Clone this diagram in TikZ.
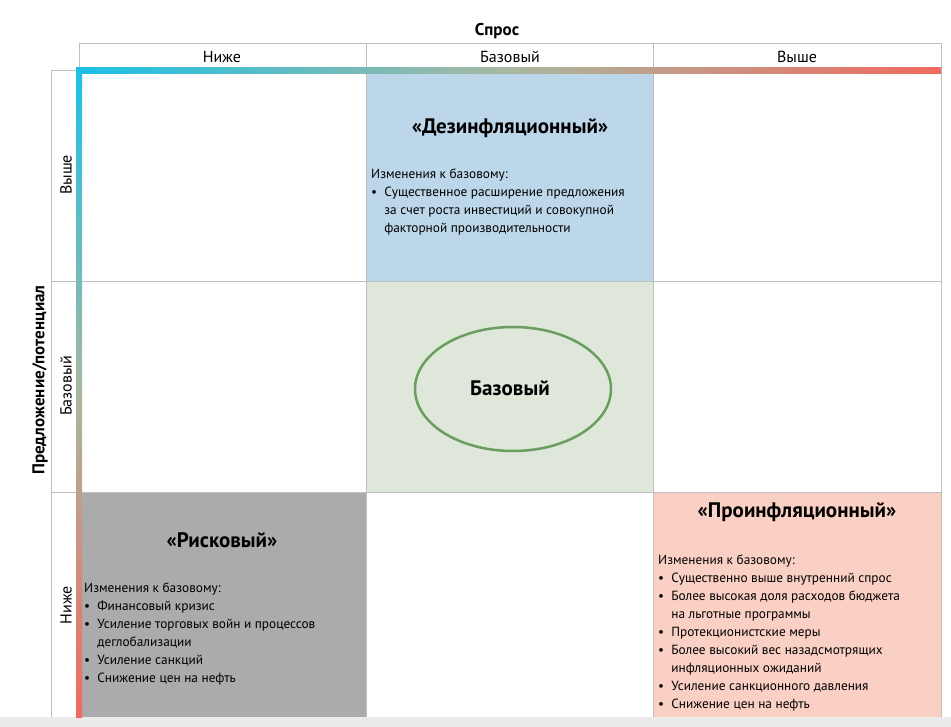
\documentclass[tikz,border=0pt]{standalone}
\usepackage{fontspec}
\setmainfont{PT Sans}
\begin{document}
\begin{tikzpicture}[x=1pt,y=-1pt,
 grid/.style={draw=black!25,line width=0.8pt},
 ttl/.style={font=\bfseries\fontsize{21}{24}\selectfont,anchor=center},
 body/.style={font=\fontsize{13.3}{18}\selectfont,anchor=north west,align=left,inner sep=0pt},
 hdr/.style={font=\fontsize{16}{18}\selectfont}]
\definecolor{cy}{HTML}{1BC0E6}\definecolor{mid}{HTML}{A8B8A0}\definecolor{rd}{HTML}{F06A5F}
\useasboundingbox (0,0) rectangle (951,727);
% cells
\fill[color={rgb,255:red,189;green,215;blue,234}] (366,70) rectangle (653,281);
\fill[color={rgb,255:red,223;green,230;blue,218}] (366,281) rectangle (653,492);
\fill[color={rgb,255:red,171;green,171;blue,173}] (79,492) rectangle (366,717);
\fill[color={rgb,255:red,250;green,208;blue,196}] (653,492) rectangle (941,717);
% grid
\draw[grid] (79,70) -- (79,43) -- (941,43) -- (941,717);
\draw[grid] (366,43) -- (366,717) (653,43) -- (653,717);
\draw[grid] (51,717) -- (51,70) -- (79,70);
\draw[grid] (51,281) -- (941,281) (51,492) -- (941,492);
\fill[black!8] (0,717) rectangle (951,727);
% gradient bars
\shade[left color=cy,right color=rd,middle color=mid] (76,68) rectangle (941,74);
\shade[top color=cy,bottom color=rd,middle color=mid] (76,68) rectangle (82,717);
% headers
\node[font=\bfseries\fontsize{17}{20}\selectfont] (sp) at (497,31) {Спрос};
\node[hdr] (h1) at (222,57) {Ниже};
\node[hdr] (h2) at (510,57) {Базовый};
\node[hdr] (h3) at (797,57) {Выше};
\node[font=\bfseries\fontsize{17}{20}\selectfont,rotate=90] (pp) at (40,380) {Предложение/потенциал};
\node[hdr,rotate=90] (v1) at (66,175) {Выше};
\node[hdr,rotate=90] (v2) at (66,386) {Базовый};
\node[hdr,rotate=90] (v3) at (66,605) {Ниже};
% texts
\node[ttl] (t1) at (510,128) {«Дезинфляционный»};
\node[body] (b1) at (371,169) {Изменения к базовому:\\
\textbullet\ \ Существенное расширение предложения\\
\phantom{\textbullet\ \ }за счет роста инвестиций и совокупной\\
\phantom{\textbullet\ \ }факторной производительности};
\draw[color={rgb,255:red,106;green,158;blue,95},line width=2.5pt] (513,389) ellipse (98 and 62);
\node[font=\bfseries\fontsize{21}{24}\selectfont] (bz) at (510,388) {Базовый};
\node[ttl] (t2) at (222,540) {«Рисковый»};
\node[body] (b2) at (84,583) {Изменения к базовому:\\
\textbullet\ \ Финансовый кризис\\
\textbullet\ \ Усиление торговых войн и процессов\\
\phantom{\textbullet\ \ }деглобализации\\
\textbullet\ \ Усиление санкций\\
\textbullet\ \ Снижение цен на нефть};
\node[ttl] (t3) at (797,512) {«Проинфляционный»};
\node[body] (b3) at (658,555) {Изменения к базовому:\\
\textbullet\ \ Существенно выше внутренний спрос\\
\textbullet\ \ Более высокая доля расходов бюджета\\
\phantom{\textbullet\ \ }на льготные программы\\
\textbullet\ \ Протекционистские меры\\
\textbullet\ \ Более высокий вес назадсмотрящих\\
\phantom{\textbullet\ \ }инфляционных ожиданий\\
\textbullet\ \ Усиление санкционного давления\\
\textbullet\ \ Снижение цен на нефть};
\end{tikzpicture}
\end{document}
